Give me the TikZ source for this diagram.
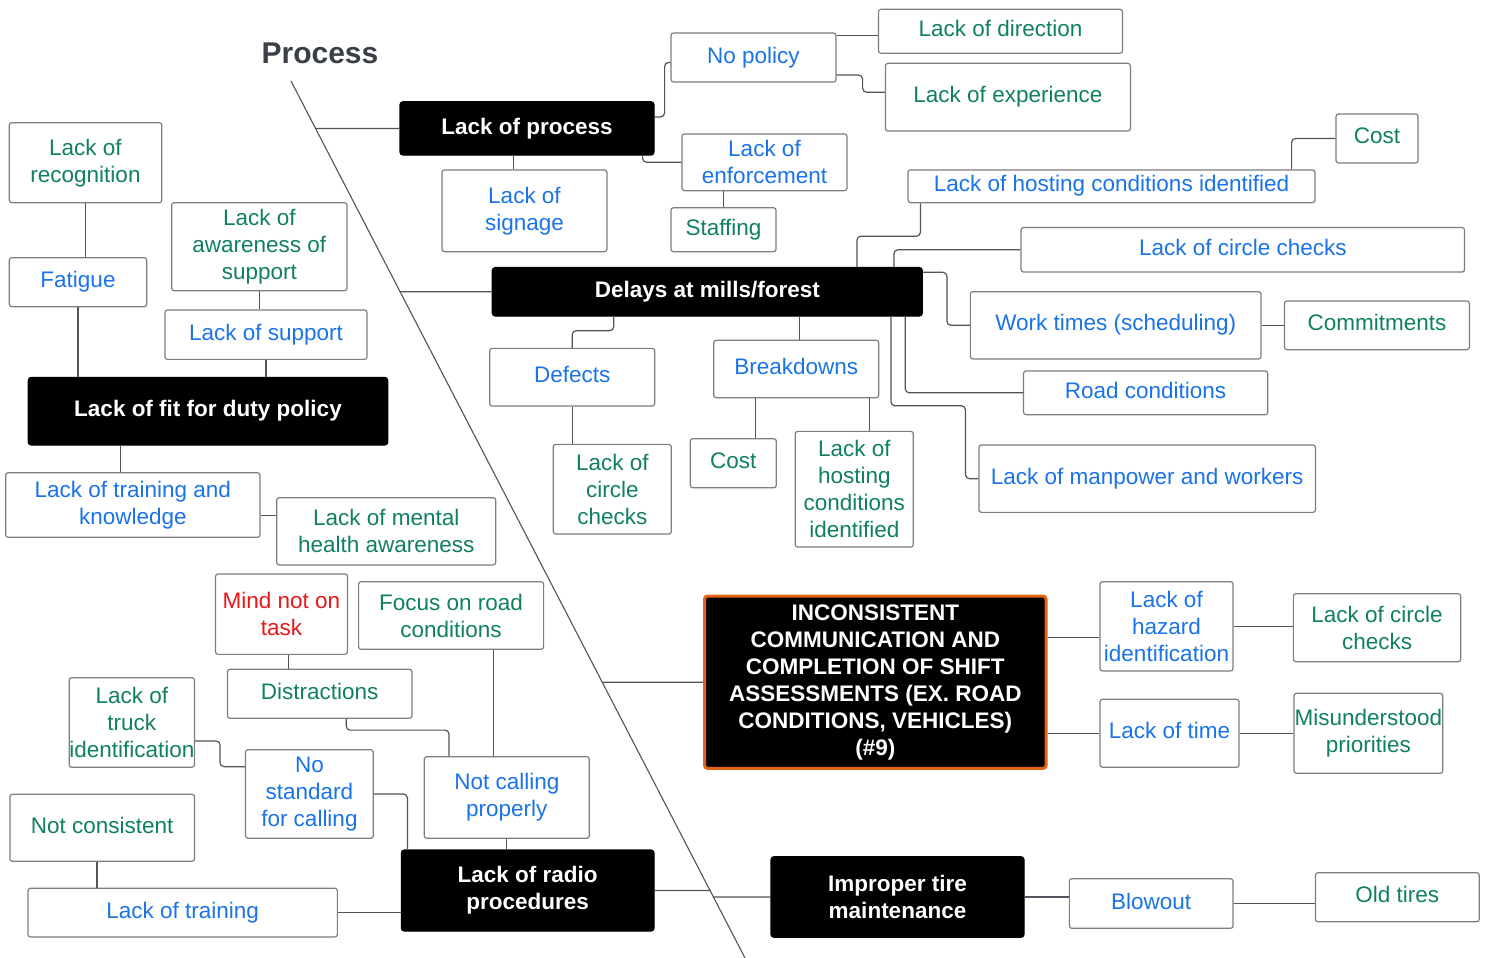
\documentclass[tikz,border=0pt]{standalone}
\usepackage{fontspec}
\setmainfont{Liberation Sans}
\usetikzlibrary{calc}
\definecolor{tblue}{RGB}{26,115,232}
\definecolor{tgreen}{RGB}{16,128,98}
\definecolor{tred}{RGB}{232,24,24}
\definecolor{bordergray}{RGB}{125,125,130}
\definecolor{conngray}{RGB}{80,84,92}
\definecolor{titlegray}{RGB}{58,62,70}
\definecolor{incorange}{RGB}{228,100,20}
\newcommand\fsz{\fontsize{22.5}{27}\selectfont}
\newcommand\B[7]{\node[#6, minimum width=#4pt, minimum height=#5pt] (#1) at (#2,#3) {#7};}
\tikzset{
  wbox/.style={draw=bordergray, line width=1.2pt, rounded corners=2.5pt, fill=white, inner sep=0pt, align=center, font=\fsz, text depth=5pt},
  bl/.style={wbox, text=tblue},
  gr/.style={wbox, text=tgreen},
  rd/.style={wbox, text=tred},
  ml/.style={text depth={}},
  kbox/.style={draw=black, fill=black, line width=1.2pt, rounded corners=3pt, inner sep=0pt, align=center, text=white, font=\fsz\bfseries, text depth=5pt},
  incbox/.style={kbox, draw=incorange, line width=3pt},
  conn/.style={draw=conngray, line width=1.2pt, rounded corners=4pt},
  spine/.style={draw=conngray, line width=1.1pt}
}
\begin{document}
\begin{tikzpicture}[x=1pt,y=-1pt]
\fill[white] (0,0) rectangle (1488,958);
\useasboundingbox (0,0) rectangle (1488,958);

\node[font=\fontsize{30}{34}\selectfont\bfseries, text=titlegray] (title) at (320,53) {Process};
\coordinate (s0) at (291,81);
\coordinate (s1) at (745,958);
\draw[spine] (s0) -- (s1);

% top area
\B{dir}{1000.5}{31.3}{244}{44}{gr}{Lack of direction}
\B{exp}{1007.9}{97.2}{245}{67.7}{gr}{Lack of experience}
\B{nopol}{753.5}{57.5}{165}{49}{bl}{No policy}
\B{proc}{527}{128.4}{254}{53.3}{kbox}{Lack of process}
\B{sign}{524.5}{210.8}{165}{81.7}{bl,ml}{Lack of\\signage}
\B{enf}{764.5}{162.3}{165}{56.7}{bl,ml}{Lack of\\enforcement}
\B{staff}{723.5}{229.7}{105}{44}{gr}{Staffing}
\B{costt}{1377}{138.5}{82}{49}{gr}{Cost}
\B{hostw}{1111.5}{186.3}{407}{32.7}{bl}{Lack of hosting conditions identified}
\B{circw}{1242.8}{249.8}{443.5}{44.5}{bl}{Lack of circle checks}
\B{delays}{707.3}{291.8}{430}{48.5}{kbox}{Delays at mills/forest}
\B{work}{1115.7}{325.3}{290.7}{67.3}{bl}{Work times (scheduling)}
\B{commit}{1376.9}{325.3}{185}{48.7}{gr}{Commitments}
\B{road}{1145.6}{392.8}{244.2}{43.7}{bl}{Road conditions}
\B{man}{1147.2}{478.7}{336.5}{67.3}{bl}{Lack of manpower and workers}
\B{def}{572.2}{377.2}{165}{57.7}{bl}{Defects}
\B{brk}{796.2}{369}{165}{57.4}{bl}{Breakdowns}
\B{circs}{612.3}{489.2}{118}{89.7}{gr,ml}{Lack of\\circle\\checks}
\B{costm}{733.3}{463.2}{86}{49}{gr}{Cost}
\B{hostt}{854.3}{489.2}{118}{115.7}{gr,ml}{Lack of\\hosting\\conditions\\identified}

% left area
\B{recog}{85.5}{162.7}{152.4}{80}{gr,ml}{Lack of\\recognition}
\B{fat}{78}{282.2}{137.4}{49}{bl}{Fatigue}
\B{aware}{259.3}{246.7}{175.3}{88}{gr,ml}{Lack of\\awareness of\\support}
\B{sup}{266}{334.7}{202}{49.3}{bl}{Lack of support}
\B{fit}{208}{411.2}{359.4}{67.7}{kbox}{Lack of fit for duty policy}
\B{tk}{132.8}{505}{254.3}{64.6}{bl,ml}{Lack of training and\\knowledge}
\B{mh}{386.2}{531.3}{219}{67.3}{gr,ml}{Lack of mental\\health awareness}

% bottom area
\B{mind}{281.5}{614.2}{132}{80.3}{rd,ml}{Mind not on\\task}
\B{focus}{451.1}{615.5}{185}{67.6}{gr,ml}{Focus on road\\conditions}
\B{dist}{319.7}{693.8}{184.6}{49}{gr}{Distractions}
\B{truck}{131.8}{722.5}{125.3}{89.6}{gr,ml}{Lack of\\truck\\identification}
\B{ns}{309.4}{794}{127.8}{88.6}{bl,ml}{No\\standard\\for calling}
\B{nc}{506.8}{797.5}{165}{81.6}{bl,ml}{Not calling\\properly}
\B{ncons}{102.2}{827.8}{184.6}{67}{gr}{Not consistent}
\B{ltr}{182.7}{912.6}{309.3}{48.7}{bl}{Lack of training}
\B{radio}{527.7}{890.5}{252.7}{81}{kbox,ml}{Lack of radio\\procedures}

% right bottom
\B{inc}{875.3}{682.2}{341.5}{172.3}{incbox,ml}{INCONSISTENT\\COMMUNICATION AND\\COMPLETION OF SHIFT\\ASSESSMENTS (EX. ROAD\\CONDITIONS, VEHICLES)\\(\#9)}
\B{haz}{1166.5}{626.3}{133}{89.3}{bl,ml}{Lack of\\hazard\\identification}
\B{circr}{1377}{627.7}{167.3}{68}{gr,ml}{Lack of circle\\checks}
\B{time}{1169.5}{733.3}{139}{68}{bl}{Lack of time}
\B{mis}{1368.4}{733.3}{148.8}{80}{gr,ml}{Misunderstood\\priorities}
\B{tire}{897.5}{897}{253}{80.6}{kbox,ml}{Improper tire\\maintenance}
\B{blow}{1151.2}{903.5}{163.7}{49.6}{bl}{Blowout}
\B{old}{1397.3}{897.2}{163.8}{49}{gr}{Old tires}

% spine connections
\draw[conn] (proc.west) -- (intersection of s0--s1 and proc.west--proc.east);
\draw[conn] (delays.west) -- (intersection of s0--s1 and delays.west--delays.east);
\draw[conn] (inc.west) -- (intersection of s0--s1 and inc.west--inc.east);
\draw[conn] (radio.east) -- (intersection of s0--s1 and radio.west--radio.east);
\draw[conn] (tire.west) -- (intersection of s0--s1 and tire.west--tire.east);

% top connectors
\draw[conn] ([yshift=11.5pt]proc.east) -- ++(10,0) |- ([yshift=-5pt]nopol.west);
\draw[conn] ([xshift=-12pt]proc.south east) |- (enf.west);
\draw[conn] (staff.north) -- (staff.north |- enf.south);
\draw[conn] ([xshift=-11pt]sign.north) -- ([xshift=-11pt]sign.north |- proc.south);
\draw[conn] ([yshift=-4pt]dir.west) -- ([yshift=-4pt]dir.west -| nopol.east);
\draw[conn] ([yshift=-17.5pt]nopol.east) -- ++(26,0) |- ([yshift=5pt]exp.west);
\draw[conn] ([xshift=-24pt]hostw.north east) |- (costt.west);
\draw[conn] ([xshift=-66pt]delays.north east) |- ([xshift=13pt,yshift=-33pt]hostw.south west) -- ([xshift=13pt]hostw.south west);
\draw[conn] ([xshift=-29pt]delays.north east) |- (circw.west);
\draw[conn] ([yshift=19.5pt]delays.east) -- ++(24,0) |- (work.west);
\draw[conn] (work.east) -- (work.east -| commit.west);
\draw[conn] ([xshift=-17.6pt]delays.south east) |- (road.west);
\draw[conn] ([xshift=-32pt]delays.south east) |- ([xshift=-12.9pt,yshift=73pt]man.west) |- (man.west);
\draw[conn] ([xshift=122pt]delays.south west) |- ([yshift=17pt]def.north) -- (def.north);
\draw[conn] ([xshift=3pt]brk.north) -- ([xshift=3pt]brk.north |- delays.south);
\draw[conn] (def.south) -- (def.south |- circs.north);
\draw[conn] ([xshift=42pt]brk.south west) -- ([xshift=42pt]brk.south west |- costm.north);
\draw[conn] ([xshift=-10pt]brk.south east) -- ([xshift=-10pt]brk.south east |- hostt.north);

% left connectors
\draw[conn] (recog.south) -- (recog.south |- fat.north);
\draw[conn] (fat.south) -- (fat.south |- fit.north);
\draw[conn] (aware.south) -- (aware.south |- sup.north);
\draw[conn] (sup.south) -- (sup.south |- fit.north);
\draw[conn] ([xshift=93pt]fit.south west) -- ([xshift=93pt]fit.south west |- tk.north);
\draw[conn] ([yshift=-10.7pt]tk.east) -- ([yshift=-10.7pt]tk.east -| mh.west);

% bottom connectors
\draw[conn] ([xshift=7pt]mind.south) -- ([xshift=7pt]mind.south |- dist.north);
\draw[conn] ([xshift=119.4pt]dist.south west) |- ([xshift=25.3pt,yshift=26pt]nc.north west) -- ([xshift=25.3pt]nc.north west);
\draw[conn] ([xshift=-50.7pt]focus.south east) -- ([xshift=-50.7pt]focus.south east |- nc.north);
\draw[conn] (nc.south) -- (nc.south |- radio.north);
\draw[conn] ([yshift=-18.5pt]truck.east) -- ++(25,0) |- ([yshift=27.3pt]ns.west);
\draw[conn] (ns.east) -| ([xshift=6.7pt]radio.north west);
\draw[conn] ([xshift=-5.3pt]ncons.south) -- ([xshift=-5.3pt]ncons.south |- ltr.north);
\draw[conn] (ltr.east) -- (ltr.east -| radio.west);

% right bottom connectors
\draw[conn] ([yshift=-11.4pt]haz.west) -- ([yshift=-11.4pt]haz.west -| inc.east);
\draw[conn] (haz.east) -- (haz.east -| circr.west);
\draw[conn] (time.west) -- (time.west -| inc.east);
\draw[conn] (time.east) -- (time.east -| mis.west);
\draw[conn] (tire.east) -- (tire.east -| blow.west);
\draw[conn] (blow.east) -- (blow.east -| old.west);
\end{tikzpicture}
\end{document}
